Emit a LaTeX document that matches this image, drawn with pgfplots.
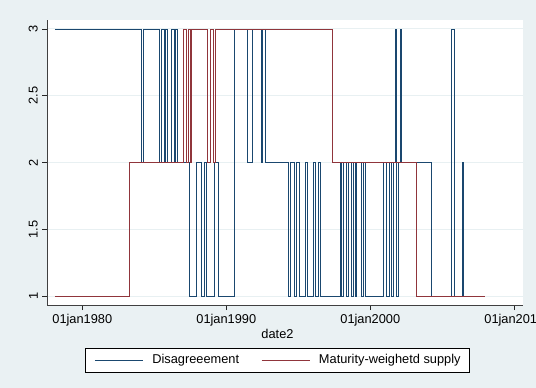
\documentclass[border=0pt]{standalone}
\usepackage{pgfplots}
\pgfplotsset{compat=1.18}
\usepackage{fontspec}
\setmainfont{Liberation Sans}
\definecolor{stbg}{RGB}{234,241,243}
\definecolor{stgrid}{RGB}{232,240,242}
\definecolor{stnavy}{RGB}{26,71,111}
\definecolor{stmaroon}{RGB}{144,53,59}
\begin{document}
\begin{tikzpicture}[font=\fontsize{12.8bp}{15bp}\selectfont]
\fill[stbg] (0,0) rectangle (536bp,388bp);
\begin{axis}[
  at={(47bp,83bp)}, anchor=south west,
  scale only axis, width=476bp, height=285bp,
  xmin=1977.549, xmax=2010.604, ymin=0.9326, ymax=3.0674,
  axis background/.style={fill=white},
  axis x line*=bottom, axis y line*=left,
  axis line style={black!75, line width=1bp},
  xtick={1980,1990,2000,2010},
  xticklabels={01jan1980,01jan1990,01jan2000,01jan2010},
  ytick={1,1.5,2,2.5,3},
  yticklabels={1,1.5,2,2.5,3},
  tick align=outside, major tick length=5bp,
  tick style={black!85, line width=0.8bp},
  ymajorgrids, grid style={stgrid, line width=1bp},
  xticklabel style={inner sep=0pt, anchor=north, yshift=-4bp},
  yticklabel style={inner sep=0pt, rotate=90, anchor=south, yshift=4bp},
  xlabel={date2},
  xlabel style={at={(axis description cs:0.4842,-0.10)}, anchor=center, inner sep=0pt},
  legend columns=2,
  legend cell align=left,
  legend image code/.code={\draw[#1, line width=0.9bp] (0bp,0bp) -- (48bp,0bp);},
  legend style={at={(0.4842,-0.1947)}, anchor=center, draw=black, line width=0.8bp,
    fill=white, inner xsep=9bp, inner ysep=5.5bp,
    nodes={inner sep=0pt, text height=9.5bp, text depth=3bp},
    /tikz/every odd column/.style={column sep=9bp},
    /tikz/every even column/.style={column sep=22bp}},
]
\addplot[const plot, stnavy, line width=0.9bp] coordinates {
(1978.10,3) (1984.11,2) (1984.24,3) (1985.35,2) (1985.51,3) (1985.69,2) (1985.79,3)
(1985.93,2) (1986.21,3) (1986.37,2) (1986.49,3) (1986.63,2) (1987.41,1) (1987.93,2)
(1988.28,1) (1988.45,2) (1988.64,1) (1989.15,2) (1989.46,1) (1990.60,3) (1991.47,2)
(1991.85,3) (1992.44,2) (1992.53,3) (1992.72,2) (1994.31,1) (1994.46,2) (1994.72,1)
(1994.89,2) (1995.05,1) (1995.47,2) (1995.64,1) (1996.04,2) (1996.16,1) (1996.37,2)
(1996.51,1) (1997.93,2) (1998.03,1) (1998.14,2) (1998.37,1) (1998.49,2) (1998.66,1)
(1998.83,2) (1998.94,1) (1999.06,2) (1999.40,1) (1999.51,2) (1999.63,1) (2000.90,2)
(2001.13,1) (2001.30,2) (2001.47,1) (2001.61,2) (2001.72,3) (2001.80,2) (2001.85,1)
(2001.94,2) (2002.12,3) (2002.19,2) (2004.26,1) (2005.65,3) (2005.85,1) (2006.37,2)
(2006.46,1) (2007.97,1)
};
\addlegendentry{Disagreeement}
\addplot[const plot, stmaroon, line width=0.9bp] coordinates {
(1978.10,1) (1983.26,2) (1987.01,3) (1987.20,2) (1987.38,3) (1987.51,2) (1987.60,3)
(1988.71,2) (1988.87,3) (1989.10,2) (1989.26,3) (1997.34,2) (2003.21,1) (2007.97,1)
};
\addlegendentry{Maturity-weighetd supply}
\end{axis}
\pgfresetboundingbox
\useasboundingbox (0,0) rectangle (536bp,388bp);
\end{tikzpicture}
\end{document}
